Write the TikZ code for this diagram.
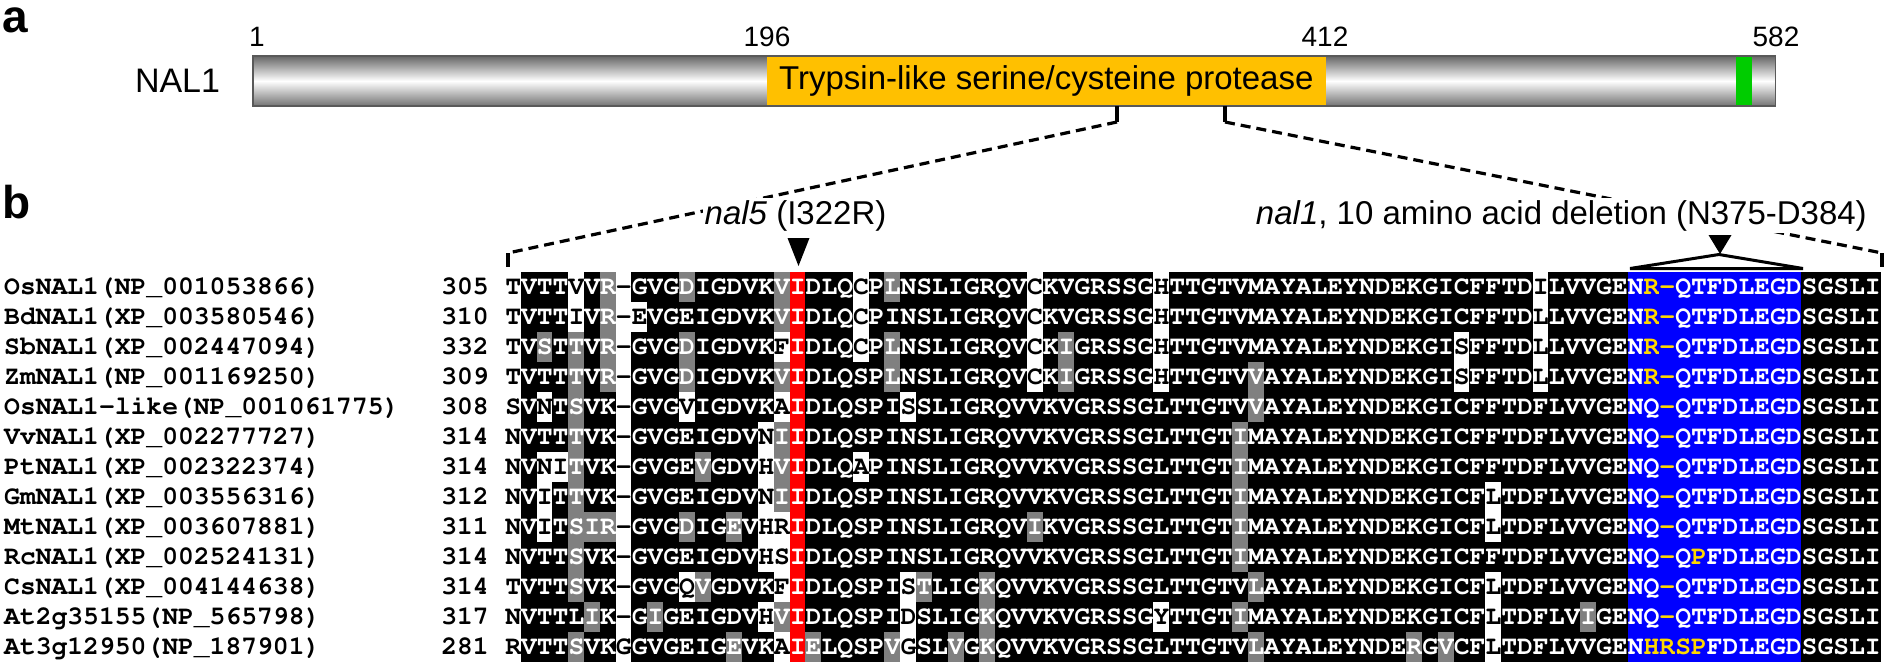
\documentclass[tikz,border=0pt]{standalone}
\usepackage[T1]{fontenc}
\usepackage{fontspec}
\setmainfont{Liberation Sans}
\usetikzlibrary{positioning}

\definecolor{domorange}{HTML}{FFC000}
\definecolor{motifgreen}{HTML}{00CC00}
\definecolor{simgrey}{HTML}{808080}
\definecolor{delblue}{HTML}{0000FF}
\definecolor{markyellow}{HTML}{FFD800}

\newcommand\alnfont{\fontencoding{T1}\fontfamily{pcr}\fontseries{b}\fontshape{n}\fontsize{26.35}{30}\selectfont}

\tikzset{
  panlab/.style={inner sep=0pt, font=\fontsize{46}{50}\selectfont\bfseries},
  protbar/.style={draw=black!65, line width=1.5pt, top color=black!60, bottom color=black!55, middle color=white, inner sep=0pt},
  protdomain/.style={fill=domorange, minimum height=48.5pt, inner sep=0pt, font=\fontsize{33}{36}\selectfont},
  motif/.style={fill=motifgreen, minimum height=48.5pt, inner sep=0pt},
  barlab/.style={inner sep=0pt, font=\fontsize{34}{36}\selectfont},
  posnum/.style={anchor=base, inner sep=0pt, font=\fontsize{28}{30}\selectfont},
  zoomline/.style={line width=3.2pt},
  zoomdash/.style={zoomline, dash pattern=on 10pt off 6pt},
  mutlab/.style={anchor=base, fill=white, inner sep=2pt, font=\fontsize{33}{36}\selectfont},
  seqlab/.style={inner sep=0pt, font=\alnfont},
  res/.style={inner sep=0pt, anchor=base, font=\alnfont},
  cell k/.style={fill=black},   txt k/.style={text=white},
  cell g/.style={fill=simgrey}, txt g/.style={text=white},
  cell w/.style={fill=white},   txt w/.style={text=black},
  cell r/.style={fill=red},     txt r/.style={text=white},
  cell b/.style={fill=delblue}, txt b/.style={text=white},
  cell y/.style={fill=delblue}, txt y/.style={text=markyellow},
}

% one residue: column, letter, shading code
\newcounter{alncol}
\newcommand\alncell[3]{%
  \pgfmathsetmacro\cellL{505.3+(#1-1)*15.81}%
  \pgfmathsetmacro\cellR{\cellL+15.81}%
  \pgfmathsetmacro\cellM{\cellL+7.905}%
  \fill[cell #3] (\cellL-0.3,\celltop) rectangle (\cellR+0.3,\celltop+30.3);
  \node[res, txt #3] (r\alnrownum c#1) at (\cellM,\cellbase) {#2};}
\def\alnscan#1#2\relax#3#4\relax{%
  \stepcounter{alncol}%
  \alncell{\thealncol}{#1}{#3}%
  \ifx\relax#2\relax\else\alnscan#2\relax#4\relax\fi}
% row, name, first position, residues, shading codes
\newcommand\alnrow[5]{%
  \def\alnrownum{#1}%
  \pgfmathsetmacro\celltop{271.7+30*(#1-1)}%
  \pgfmathsetmacro\cellbase{294+30*(#1-1)}%
  \node[seqlab, anchor=base west] (name#1) at (4,\cellbase) {#2};
  \node[seqlab, anchor=base east] (start#1) at (489,\cellbase) {#3};
  \setcounter{alncol}{0}%
  \alnscan#4\relax#5\relax}

\begin{document}
\begin{tikzpicture}[x=1pt, y=-1pt, node distance=32pt, auto]
\useasboundingbox (0,0) rectangle (1890,666);

\node[panlab, anchor=base west] (pa) at (2,33) {a};
\node[protbar, minimum width=1522.6pt, minimum height=50pt] (bar) at (1014.3,81) {};
\node[protdomain, minimum width=559.3pt] (dom) at (1046.35,81) {Trypsin-like serine/cysteine protease};
\node[motif, minimum width=15.5pt] (motif) at (1743.75,81) {};
\node[barlab, left=of bar] (nal1) {NAL1};
\node[posnum] (n1) at (257,47) {1};
\node[posnum] (n196) at (767,47) {196};
\node[posnum] (n412) at (1325,47) {412};
\node[posnum] (n582) at (1776,47) {582};

\node[panlab, anchor=base west] (pb) at (2,218) {b};

\coordinate (cutL) at (1117,106);
\coordinate (kneeL) at (1117,122);
\coordinate (endL) at (508,253);
\coordinate (tickL) at (508,267);
\coordinate (cutR) at (1225,106);
\coordinate (kneeR) at (1225,122);
\coordinate (endR) at (1882,253);
\coordinate (tickR) at (1882,267);

\draw[zoomline] (cutL) -- (kneeL);
\draw[zoomdash] (kneeL) -- (endL);
\draw[zoomline] (endL) -- (tickL);
\draw[zoomline] (cutR) -- (kneeR);
\draw[zoomdash] (kneeR) -- (endR);
\draw[zoomline] (endR) -- (tickR);

\node[mutlab] (nal5lab) at (795.5,224) {\textit{nal5} (I322R)};
\node[mutlab] (nal1lab) at (1561.4,224) {\textit{nal1}, 10 amino acid deletion (N375-D384)};

\fill (787.5,238) -- (809.5,238) -- (798.5,266) -- cycle;
\fill (1708.5,235) -- (1731.5,235) -- (1720,254) -- cycle;
\draw[line width=3pt, line join=miter] (1630,268.5) -- (1719,254.5) -- (1803,268.5) -- cycle;

\alnrow{1}{OsNAL1(NP\_001053866)}{305}
  {TVTTVVR-GVGDIGDVKVIDLQCPLNSLIGRQVCKVGRSSGHTTGTVMAYALEYNDEKGICFFTDILVVGENR-QTFDLEGDSGSLI}
  {wkkkwkgwkk kgkkkkkgrk kkwkgkkkkk kkkwkkkkkk kwkkkkkkkk kkkkkkkkkk kkkkkwkkkk kbyybbbbbb bbkkkkk}
\alnrow{2}{BdNAL1(XP\_003580546)}{310}
  {TVTTIVR-EVGEIGDVKVIDLQCPINSLIGRQVCKVGRSSGHTTGTVMAYALEYNDEKGICFFTDLLVVGENR-QTFDLEGDSGSLI}
  {wkkkwkgwwk kkkkkkkgrk kkwkkkkkkk kkkwkkkkkk kwkkkkkkkk kkkkkkkkkk kkkkkwkkkk kbyybbbbbb bbkkkkk}
\alnrow{3}{SbNAL1(XP\_002447094)}{332}
  {TVSTTVR-GVGDIGDVKFIDLQCPLNSLIGRQVCKIGRSSGHTTGTVMAYALEYNDEKGISFFTDLLVVGENR-QTFDLEGDSGSLI}
  {wkgkgkgwkk kgkkkkkwrk kkwkgkkkkk kkkwkgkkkk kwkkkkkkkk kkkkkkkkkk wkkkkwkkkk kbyybbbbbb bbkkkkk}
\alnrow{4}{ZmNAL1(NP\_001169250)}{309}
  {TVTTTVR-GVGDIGDVKVIDLQSPLNSLIGRQVCKIGRSSGHTTGTVVAYALEYNDEKGISFFTDLLVVGENR-QTFDLEGDSGSLI}
  {wkkkgkgwkk kgkkkkkgrk kkkkgkkkkk kkkwkgkkkk kwkkkkkgkk kkkkkkkkkk wkkkkwkkkk kbyybbbbbb bbkkkkk}
\alnrow{5}{OsNAL1-like(NP\_001061775)}{308}
  {SVNTSVK-GVGVIGDVKAIDLQSPISSLIGRQVVKVGRSSGLTTGTVVAYALEYNDEKGICFFTDFLVVGENQ-QTFDLEGDSGSLI}
  {wkwkgkkwkk kwkkkkkwrk kkkkkwkkkk kkkkkkkkkk kkkkkkkgkk kkkkkkkkkk kkkkkkkkkk kbbybbbbbb bbkkkkk}
\alnrow{6}{VvNAL1(XP\_002277727)}{314}
  {NVTTTVK-GVGEIGDVNIIDLQSPINSLIGRQVVKVGRSSGLTTGTIMAYALEYNDEKGICFFTDFLVVGENQ-QTFDLEGDSGSLI}
  {wkkkgkkwkk kkkkkkwgrk kkkkkkkkkk kkkkkkkkkk kkkkkkgkkk kkkkkkkkkk kkkkkkkkkk kbbybbbbbb bbkkkkk}
\alnrow{7}{PtNAL1(XP\_002322374)}{314}
  {NVNITVK-GVGEVGDVHVIDLQAPINSLIGRQVVKVGRSSGLTTGTIMAYALEYNDEKGICFFTDFLVVGENQ-QTFDLEGDSGSLI}
  {wkwwgkkwkk kkgkkkwgrk kkwkkkkkkk kkkkkkkkkk kkkkkkgkkk kkkkkkkkkk kkkkkkkkkk kbbybbbbbb bbkkkkk}
\alnrow{8}{GmNAL1(XP\_003556316)}{312}
  {NVITTVK-GVGEIGDVNIIDLQSPINSLIGRQVVKVGRSSGLTTGTIMAYALEYNDEKGICFLTDFLVVGENQ-QTFDLEGDSGSLI}
  {wkwkgkkwkk kkkkkkwgrk kkkkkkkkkk kkkkkkkkkk kkkkkkgkkk kkkkkkkkkk kkwkkkkkkk kbbybbbbbb bbkkkkk}
\alnrow{9}{MtNAL1(XP\_003607881)}{311}
  {NVITSIR-GVGDIGEVHRIDLQSPINSLIGRQVIKVGRSSGLTTGTIMAYALEYNDEKGICFLTDFLVVGENQ-QTFDLEGDSGSLI}
  {wkwkgggwkk kgkkgkwwrk kkkkkkkkkk kkkgkkkkkk kkkkkkgkkk kkkkkkkkkk kkwkkkkkkk kbbybbbbbb bbkkkkk}
\alnrow{10}{RcNAL1(XP\_002524131)}{314}
  {NVTTSVK-GVGEIGDVHSIDLQSPINSLIGRQVVKVGRSSGLTTGTIMAYALEYNDEKGICFFTDFLVVGENQ-QPFDLEGDSGSLI}
  {wkkkgkkwkk kkkkkkwwrk kkkkkkkkkk kkkkkkkkkk kkkkkkgkkk kkkkkkkkkk kkkkkkkkkk kbbybybbbb bbkkkkk}
\alnrow{11}{CsNAL1(XP\_004144638)}{314}
  {TVTTSVK-GVGQVGDVKFIDLQSPISTLIGKQVVKVGRSSGLTTGTVLAYALEYNDEKGICFLTDFLVVGENQ-QTFDLEGDSGSLI}
  {wkkkgkkwkk kwgkkkkwrk kkkkkwgkkk gkkkkkkkkk kkkkkkkgkk kkkkkkkkkk kkwkkkkkkk kbbybbbbbb bbkkkkk}
\alnrow{12}{At2g35155(NP\_565798)}{317}
  {NVTTLIK-GIGEIGDVHVIDLQSPIDSLIGKQVVKVGRSSGYTTGTIMAYALEYNDEKGICFLTDFLVIGENQ-QTFDLEGDSGSLI}
  {wkkkkgkwkg kkkkkkwgrk kkkkkwkkkk gkkkkkkkkk kwkkkkgkkk kkkkkkkkkk kkwkkkkkgk kbbybbbbbb bbkkkkk}
\alnrow{13}{At3g12950(NP\_187901)}{281}
  {RVTTSVKGGVGEIGEVKAIELQSPVGSLVGKQVVKVGRSSGLTTGTVLAYALEYNDERGVCFLTDFLVVGENHRSPFDLEGDSGSLI}
  {wkkkgkkwkk kkkkgkkwrg kkkkgwkkgk gkkkkkkkkk kkkkkkkgkk kkkkkkkgkg kkwkkkkkkk kbyyyybbbb bbkkkkk}
\end{tikzpicture}
\end{document}
